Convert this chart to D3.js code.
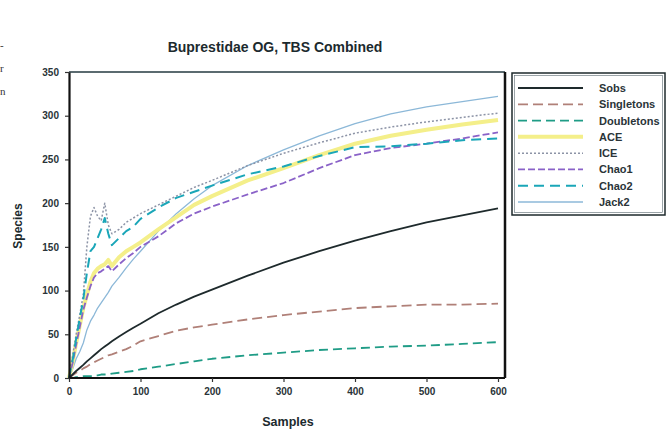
<!DOCTYPE html>
<html><head><meta charset="utf-8">
<script src="https://cdn.jsdelivr.net/npm/d3@7"></script>
<style>body{margin:0;background:#fff}svg{display:block}</style>
</head><body>
<svg id="c" width="667" height="431"></svg>
<script>
// ---- data ----
const sampleX = [0,5,10,15,20,25,30,35,40,45,50,55,60,70,80,90,100,125,150,175,200,250,300,350,400,450,500,550,600];
const sobs       = [0,4,8,11.5,15,19,22.5,26,29.5,33,36,39,42,47.5,52.5,57.5,62,74,84,93,101,117,132,145,157,168,178,186,194];
const singletons = [0,3,6,8,11,13,16,18,20,22,24,26,27,30,33,37,42,48,54,58,61,67,72,76,80,82,84,84,85];
const doubletons = [0,0,1,1,2,2,2,3,3,4,4,4,5,6,7,8,10,13,16,19,22,26,29,32,34,36,37,39,41];
const ace        = [0,18,40,60,80,95,110,120,125,128,130,135,128,138,145,150,155,170,184,198,208,226,240,255,268,277,284,290,295];
const ice        = [0,25,50,72,95,150,185,195,185,180,200,175,165,170,178,183,188,198,208,218,226,243,257,269,280,287,293,298,303];
const chao1      = [0,17,38,58,78,92,105,115,120,122,125,128,122,130,137,143,150,162,177,188,196,210,223,240,255,263,268,274,281];
const chao2      = [0,20,45,68,90,120,145,150,160,170,183,165,152,160,168,173,182,195,206,213,220,233,242,254,264,265,268,272,274];
const jack2      = [0,10,22,30,40,55,65,72,80,86,92,98,105,115,126,136,145,168,188,205,220,243,261,277,291,302,310,316,322];
const seriesNames = ["Sobs","Singletons","Doubletons","ACE","ICE","Chao1","Chao2","Jack2"];
const seriesValues = [sobs,singletons,doubletons,ace,ice,chao1,chao2,jack2];
const xTicks = [0,100,200,300,400,500,600];
const yTicks = [0,50,100,150,200,250,300,350];

// ---- styles ----
const styles = {
  Sobs:{stroke:"#1e2a2c",w:1.8,dash:null},
  Singletons:{stroke:"#b08078",w:1.8,dash:"10,5"},
  Doubletons:{stroke:"#1f9c86",w:1.8,dash:"9,5"},
  ACE:{stroke:"#f4ef8a",w:4,dash:null},
  ICE:{stroke:"#8c93a6",w:1.5,dash:"2,2"},
  Chao1:{stroke:"#8a62c8",w:1.8,dash:"7,3"},
  Chao2:{stroke:"#1aa6b8",w:2,dash:"10,6"},
  Jack2:{stroke:"#8cb8d8",w:1.3,dash:null}
};
const drawOrder = ["Jack2","ACE","Chao1","ICE","Chao2","Doubletons","Singletons","Sobs"];

const svg = d3.select("#c");
const font = "'Liberation Sans', Arial, sans-serif";
const L=69, R=505, T=72, B=378;
const x = d3.scaleLinear().domain([0,600]).range([69,498]);
const y = d3.scaleLinear().domain([0,350]).range([378,72]);

// page fragments on left edge
[["-",49],["r",72],["n",95]].forEach(([t,yy])=>{
  svg.append("text").attr("x",0).attr("y",yy).attr("font-family","'Liberation Serif',serif")
    .attr("font-size",11).attr("fill","#333").text(t);
});

// title
svg.append("text").attr("x",275).attr("y",52).attr("text-anchor","middle")
  .attr("font-family",font).attr("font-weight","bold").attr("font-size",14)
  .attr("fill","#1c2a2e").text("Buprestidae OG, TBS Combined");

// plot lines
const line = d3.line().x((d,i)=>x(sampleX[i])).y(d=>y(d));
const g = svg.append("g");
drawOrder.forEach(n=>{
  const s = styles[n];
  g.append("path").datum(seriesValues[seriesNames.indexOf(n)])
    .attr("d",line).attr("fill","none").attr("stroke",s.stroke)
    .attr("stroke-width",s.w).attr("stroke-dasharray",s.dash)
    .attr("stroke-linejoin","round");
});

// frame
svg.append("line").attr("x1",L).attr("x2",R).attr("y1",T).attr("y2",T).attr("stroke","#243a40").attr("stroke-width",1.5);
svg.append("line").attr("x1",R).attr("x2",R).attr("y1",T).attr("y2",B).attr("stroke","#111").attr("stroke-width",2.5);

// axes
const xa = svg.append("g").attr("transform",`translate(0,${B})`)
  .call(d3.axisBottom(x).tickValues(xTicks).tickSize(4).tickPadding(6).tickSizeOuter(0));
xa.select(".domain").attr("d",`M${L},0H${R}`).attr("stroke","#111").attr("stroke-width",2);
const ya = svg.append("g").attr("transform",`translate(${L},0)`)
  .call(d3.axisLeft(y).tickValues(yTicks).tickSize(4).tickPadding(6).tickSizeOuter(0));
ya.select(".domain").attr("stroke","#111").attr("stroke-width",2.2);
[xa,ya].forEach(a=>{
  a.selectAll("text").attr("font-family",font).attr("font-weight","bold").attr("font-size",10).attr("fill","#2a3438");
  a.selectAll(".tick line").attr("stroke","#333").attr("stroke-width",1.2);
});

// axis titles
svg.append("text").attr("x",288).attr("y",426).attr("text-anchor","middle")
  .attr("font-family",font).attr("font-weight","bold").attr("font-size",12.5).attr("fill","#1c2a2e").text("Samples");
svg.append("text").attr("transform","translate(22,226) rotate(-90)").attr("text-anchor","middle")
  .attr("font-family",font).attr("font-weight","bold").attr("font-size",12).attr("fill","#1c2a2e").text("Species");

// legend
svg.append("rect").attr("x",512).attr("y",73).attr("width",153).attr("height",142)
  .attr("fill","#fff").attr("stroke","#1e2a2c").attr("stroke-width",1.5);
svg.append("rect").attr("x",514.5).attr("y",75.5).attr("width",148).attr("height",137)
  .attr("fill","none").attr("stroke","#5a6a70").attr("stroke-width",0.6);
const ly = d3.scalePoint().domain(seriesNames).range([88,202]);
seriesNames.forEach(n=>{
  const s = styles[n];
  svg.append("line").attr("x1",518).attr("x2",583).attr("y1",ly(n)).attr("y2",ly(n))
    .attr("stroke",s.stroke).attr("stroke-width",s.w).attr("stroke-dasharray",s.dash);
  svg.append("text").attr("x",599).attr("y",ly(n)+4).attr("font-family",font)
    .attr("font-weight","bold").attr("font-size",11).attr("fill","#2a3438").text(n);
});
</script>
</body></html>
